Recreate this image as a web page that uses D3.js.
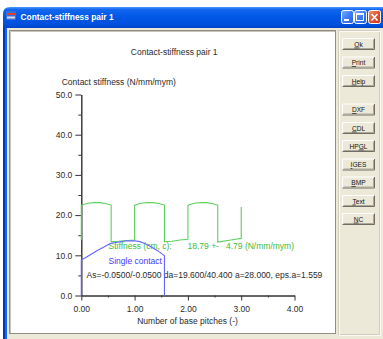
<!DOCTYPE html>
<html>
<head>
<meta charset="utf-8">
<script src="https://cdn.jsdelivr.net/npm/d3@7"></script>
<style>
  html, body { margin: 0; padding: 0; background: #fff; }
  svg { display: block; }
  text { font-family: "Liberation Sans", Arial, sans-serif; }
</style>
</head>
<body>
<svg id="win" width="383" height="339"></svg>
<script>
// ---- data -------------------------------------------------------------
const windowTitle = "Contact-stiffness pair 1";
const chartTitle = "Contact-stiffness pair 1";
const yTitle = "Contact stiffness (N/mm/mym)";
const xTitle = "Number of base pitches (-)";

// total mesh stiffness along the path of contact (base pitches, N/mm/mym)
const stiffPitch = [0, 0, 0.05, 0.15, 0.25, 0.35, 0.45, 0.56, 0.56, 0.7, 0.85, 1.0,
                    1.0, 1.05, 1.15, 1.25, 1.35, 1.45, 1.56, 1.56, 1.7, 1.85, 2.0,
                    2.0, 2.05, 2.15, 2.25, 2.35, 2.45, 2.56, 2.56, 2.62, 2.75, 2.9, 3.0, 3.0];
const stiffValue = [13.8, 22.4, 22.7, 23.0, 23.1, 23.1, 22.9, 22.5, 13.4, 13.5, 13.7, 13.8,
                    22.4, 22.7, 23.0, 23.1, 23.1, 22.9, 22.5, 13.4, 13.5, 13.8, 14.0,
                    22.4, 22.7, 23.0, 23.1, 23.1, 22.9, 22.5, 13.3, 13.4, 13.7, 14.0, 14.2, 22.0];

// single tooth pair stiffness
const singlePitch = [0, 0, 0.1, 0.2, 0.3, 0.4, 0.5, 0.56, 0.7, 0.85, 1.0, 1.1, 1.2, 1.3, 1.4, 1.47, 1.52, 1.56, 1.56];
const singleValue = [0, 8.8, 9.6, 10.4, 11.2, 11.9, 12.6, 13.0, 13.3, 13.6, 13.6, 13.4, 12.9, 12.2, 11.4, 10.8, 10.3, 9.9, 0];

const yMajor = [0, 10, 20, 30, 40, 50];
const yMinor = [5, 15, 25, 35, 45];
const xMajor = [0, 1, 2, 3, 4];
const xMinor = [0.5, 1.5, 2.5, 3.5];

const stiffLabel = "Stiffness (cm, c):";
const meanLabel = "18.79 +-";
const spreadLabel = "4.79 (N/mm/mym)";
const singleLabel = "Single contact";
const gearLabel = "As=-0.0500/-0.0500 da=19.600/40.400 a=28.000, eps.a=1.559";

const buttons = [
  {label: "Ok", u: 0}, {label: "Print", u: 0}, {label: "Help", u: 0},
  {label: "DXF", u: 0}, {label: "CDL", u: 0}, {label: "HPGL", u: 2},
  {label: "IGES", u: 0}, {label: "BMP", u: 0}, {label: "Text", u: 0}, {label: "NC", u: 0}
];
const buttonTop = [38, 56.5, 75, 103.5, 122, 140, 158.5, 176.5, 195, 213];

// ---- window frame -------------------------------------------------------
const svg = d3.select("#win");
const defs = svg.append("defs");
const tg = defs.append("linearGradient").attr("id", "titleGrad").attr("x1", 0).attr("y1", 0).attr("x2", 0).attr("y2", 1);
[["0%", "#4a97ff"], ["12%", "#1467ee"], ["45%", "#0058e6"], ["85%", "#0050dc"], ["100%", "#0042c4"]]
  .forEach(([o, c]) => tg.append("stop").attr("offset", o).attr("stop-color", c));
const bg = defs.append("linearGradient").attr("id", "btnGrad").attr("x1", 0).attr("y1", 0).attr("x2", 1).attr("y2", 1);
[["0%", "#7fb0ff"], ["50%", "#3d7cf3"], ["100%", "#2a5fe0"]]
  .forEach(([o, c]) => bg.append("stop").attr("offset", o).attr("stop-color", c));
const cg = defs.append("linearGradient").attr("id", "closeGrad").attr("x1", 0).attr("y1", 0).attr("x2", 1).attr("y2", 1);
[["0%", "#f29a7d"], ["50%", "#e2502d"], ["100%", "#c93a1c"]]
  .forEach(([o, c]) => cg.append("stop").attr("offset", o).attr("stop-color", c));

// window body
svg.append("rect").attr("x", 3).attr("y", 20).attr("width", 380).attr("height", 319).attr("fill", "#ece9d8");
// left border
svg.append("rect").attr("x", 3).attr("y", 20).attr("width", 2).attr("height", 319).attr("fill", "#0038b8");
svg.append("rect").attr("x", 5).attr("y", 20).attr("width", 2).attr("height", 319).attr("fill", "#1666ee");
// title bar
svg.append("path")
  .attr("d", "M3,28 L3,14 Q3,7 10,7 L383,7 L383,28 Z")
  .attr("fill", "url(#titleGrad)");
// icon
const ic = svg.append("g").attr("transform", "translate(6,11)");
ic.append("rect").attr("width", 10).attr("height", 9).attr("rx", 1.5).attr("fill", "#3a6fd8");
ic.append("rect").attr("x", 1).attr("y", 2).attr("width", 8).attr("height", 2).attr("fill", "#e0402a");
ic.append("rect").attr("x", 1).attr("y", 5.5).attr("width", 8).attr("height", 2).attr("fill", "#d8d8e8");
svg.append("text").attr("x", 20.5).attr("y", 19.5)
  .attr("font-size", 8.4).attr("font-weight", "bold").attr("fill", "#fff")
  .text(windowTitle);

// caption buttons
function capBtn(x, fill) {
  return svg.append("rect").attr("x", x + 0.5).attr("y", 10.5).attr("width", 12).attr("height", 13)
    .attr("rx", 2).attr("fill", fill).attr("stroke", "#fff").attr("stroke-width", 1);
}
capBtn(341, "url(#btnGrad)");
svg.append("rect").attr("x", 344).attr("y", 19).attr("width", 5).attr("height", 2).attr("fill", "#fff");
capBtn(354, "url(#btnGrad)");
svg.append("rect").attr("x", 356.5).attr("y", 13.5).attr("width", 7).attr("height", 7)
  .attr("fill", "none").attr("stroke", "#fff").attr("stroke-width", 1);
svg.append("rect").attr("x", 356).attr("y", 13).attr("width", 8).attr("height", 2).attr("fill", "#fff");
capBtn(368, "url(#closeGrad)");
svg.append("path").attr("d", "M371.5,14 L377.5,20.5 M377.5,14 L371.5,20.5")
  .attr("stroke", "#fff").attr("stroke-width", 1.6);

// plot panel (sunken)
svg.append("rect").attr("x", 9.5).attr("y", 30.5).attr("width", 326).attr("height", 303)
  .attr("fill", "#fff").attr("stroke", "#8f8d84");
svg.append("path").attr("d", "M10.5,333 L10.5,31.5 L335,31.5").attr("fill", "none").attr("stroke", "#c8c5b8");

// button column (etched group)
svg.append("rect").attr("x", 338.5).attr("y", 30.5).attr("width", 41).attr("height", 304)
  .attr("fill", "none").attr("stroke", "#d0cdbf");
svg.append("rect").attr("x", 339.5).attr("y", 31.5).attr("width", 41).attr("height", 304)
  .attr("fill", "none").attr("stroke", "#fbfaf5");

const bGroup = svg.append("g");
buttons.forEach((b, i) => {
  const g = bGroup.append("g").attr("transform", `translate(342,${buttonTop[i]})`);
  g.append("rect").attr("x", 0).attr("y", 0).attr("width", 33).attr("height", 12).attr("fill", "#ece9d8");
  g.append("path").attr("d", "M0.5,11.5 L0.5,0.5 L32.5,0.5").attr("fill", "none").attr("stroke", "#fff");
  g.append("path").attr("d", "M0.5,11.5 L32.5,11.5 L32.5,0.5").attr("fill", "none").attr("stroke", "#6f6d64");
  g.append("path").attr("d", "M1.5,10.5 L31.5,10.5 L31.5,1.5").attr("fill", "none").attr("stroke", "#aca899");
  const t = g.append("text").attr("x", 16.5).attr("y", 8.6).attr("text-anchor", "middle")
    .attr("font-size", 6.6).attr("fill", "#111");
  b.label.split("").forEach((ch, k) => {
    t.append("tspan").attr("text-decoration", k === b.u ? "underline" : null).text(ch);
  });
});

// ---- chart ---------------------------------------------------------------
const x = d3.scaleLinear().domain([0, 4]).range([81.3, 294.5]);
const y = d3.scaleLinear().domain([0, 50]).range([295.5, 94.5]);
const ink = "#2a2a2a";
const fs = 8.5;

svg.append("text").attr("x", 174.2).attr("y", 54.5).attr("text-anchor", "middle")
  .attr("font-size", fs).attr("fill", ink).text(chartTitle);
svg.append("text").attr("x", 61.7).attr("y", 84.5)
  .attr("font-size", fs).attr("fill", ink).text(yTitle);
svg.append("text").attr("x", 187.5).attr("y", 323.5).attr("text-anchor", "middle")
  .attr("font-size", fs).attr("fill", ink).text(xTitle);

function styleAxis(g) {
  g.selectAll("path, line").attr("stroke", "#333");
  g.selectAll("text").attr("font-size", fs).attr("fill", ink)
    .attr("font-family", "'Liberation Sans', Arial, sans-serif");
}
svg.append("g").attr("transform", `translate(${x(0)},0)`)
  .call(d3.axisLeft(y).tickValues(yMinor).tickSize(3).tickSizeOuter(0).tickFormat(""))
  .call(styleAxis);
svg.append("g").attr("transform", `translate(${x(0)},0)`)
  .call(d3.axisLeft(y).tickValues(yMajor).tickSize(6).tickSizeOuter(0).tickPadding(3)
    .tickFormat(d3.format(".1f")))
  .call(styleAxis);
svg.append("g").attr("transform", `translate(0,${y(0)})`)
  .call(d3.axisBottom(x).tickValues(xMinor).tickSize(2).tickSizeOuter(0).tickFormat(""))
  .call(styleAxis);
svg.append("g").attr("transform", `translate(0,${y(0)})`)
  .call(d3.axisBottom(x).tickValues(xMajor).tickSize(5).tickSizeOuter(0).tickPadding(5)
    .tickFormat(d3.format(".2f")))
  .call(styleAxis);

const line = d3.line().x(d => x(d[0])).y(d => y(d[1]));
const green = "#5ccf5c";
const blue = "#6464ff";

svg.append("path")
  .datum(stiffPitch.map((p, i) => [p, stiffValue[i]]))
  .attr("d", line).attr("fill", "none").attr("stroke", green).attr("stroke-width", 1.1);

// annotations
svg.append("text").attr("x", 108.5).attr("y", 248.5).attr("font-size", fs).attr("fill", "#3dbb3d").text(stiffLabel);
svg.append("text").attr("x", 187.5).attr("y", 248.5).attr("font-size", fs).attr("fill", "#3dbb3d").text(meanLabel);
svg.append("text").attr("x", 226).attr("y", 248.5).attr("font-size", fs).attr("fill", "#3dbb3d").text(spreadLabel);
svg.append("text").attr("x", 108.5).attr("y", 263.5).attr("font-size", fs).attr("fill", "#3c3cff").text(singleLabel);
svg.append("text").attr("x", 86.5).attr("y", 278).attr("font-size", fs).attr("fill", ink).text(gearLabel);

svg.append("path")
  .datum(singlePitch.map((p, i) => [p, singleValue[i]]))
  .attr("d", line).attr("fill", "none").attr("stroke", blue).attr("stroke-width", 1.1);
</script>
</body>
</html>
